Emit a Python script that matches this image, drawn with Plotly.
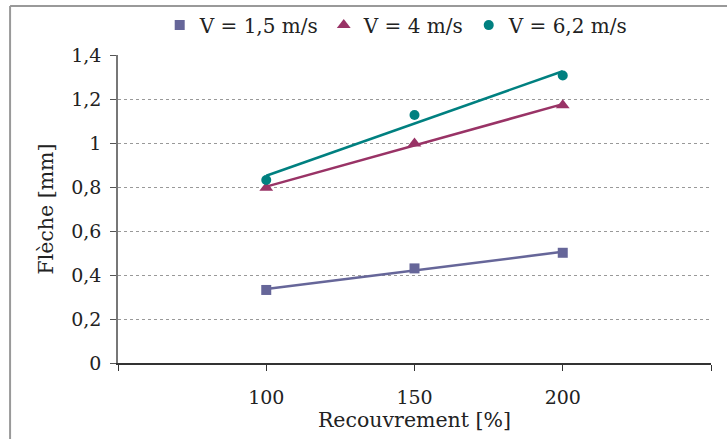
import numpy as np
import plotly.graph_objects as go

recouvrement = [100, 150, 200]
fleche_v15 = [0.332, 0.430, 0.501]
fleche_v4 = [0.797, 0.998, 1.172]
fleche_v62 = [0.832, 1.127, 1.307]

series_names = ["V = 1,5 m/s", "V = 4 m/s", "V = 6,2 m/s"]
series_values = [fleche_v15, fleche_v4, fleche_v62]
colors = ["#666699", "#993366", "#008080"]
symbols = ["square", "triangle-up", "circle"]
sizes = [10, 12, 10]

x_tickvals = [50, 100, 150, 200, 250]
x_ticktext = ["", "100", "150", "200", ""]
y_tickvals = [0, 0.2, 0.4, 0.6, 0.8, 1.0, 1.2, 1.4]
y_ticktext = ["0", "0,2", "0,4", "0,6", "0,8", "1", "1,2", "1,4"]

FONT = "DejaVu Serif"
FS = 19
FT = 20.5

fig = go.Figure()
xs = np.array(recouvrement, dtype=float)
for name, vals, c, s, sz in zip(series_names, series_values, colors, symbols, sizes):
    # linear trendline computed from the data
    k, b = np.polyfit(xs, np.array(vals), 1)
    xl = [xs.min(), xs.max()]
    fig.add_trace(go.Scatter(x=xl, y=[k * v + b for v in xl], mode="lines",
                             line=dict(color=c, width=2.5), showlegend=False,
                             hoverinfo="skip"))
for name, vals, c, s, sz in zip(series_names, series_values, colors, symbols, sizes):
    fig.add_trace(go.Scatter(x=recouvrement, y=vals, mode="markers", name=name,
                             marker=dict(color=c, symbol=s, size=sz)))

fig.update_layout(
    width=727, height=439,
    margin=dict(l=118, r=16, t=55, b=76, autoexpand=False),
    paper_bgcolor="white", plot_bgcolor="white",
    font=dict(family=FONT, size=FS, color="#222"),
    legend=dict(orientation="h", x=0.47, xanchor="center", y=1.097, yanchor="middle",
                font=dict(family=FONT, size=20, color="#222"), itemwidth=30,
                bgcolor="rgba(0,0,0,0)"),
    xaxis=dict(range=[50, 250], tickvals=x_tickvals, ticktext=x_ticktext,
               ticks="outside", ticklen=6, tickcolor="#333", showgrid=False,
               showline=True, linecolor="#333", linewidth=1.5, zeroline=False,
               ticklabelstandoff=10,
               title=dict(text="Recouvrement [%]", standoff=2, font=dict(size=FT)),
               tickfont=dict(size=FS), automargin=False),
    yaxis=dict(range=[0, 1.4], tickvals=y_tickvals, ticktext=y_ticktext,
               ticks="outside", ticklen=6, tickcolor="#555", showgrid=True,
               gridcolor="#999", griddash="3px,3px", gridwidth=1,
               showline=True, linecolor="#777", linewidth=1.5, zeroline=False,
               ticklabelstandoff=5,
               title=dict(text="Flèche [mm]", standoff=12, font=dict(size=FT)),
               tickfont=dict(size=FS), automargin=False),
    shapes=[
        dict(type="line", xref="paper", yref="paper", x0=-0.182, x1=-0.182,
             y0=1.159, y1=-0.3, line=dict(color="#999", width=2)),
        dict(type="line", xref="paper", yref="paper", x0=-0.182, x1=1.05,
             y0=1.159, y1=1.159, line=dict(color="#999", width=2)),
    ],
)

fig.write_html("out.html", config={"displayModeBar": False},
               post_script="document.body.style.margin='0';")
